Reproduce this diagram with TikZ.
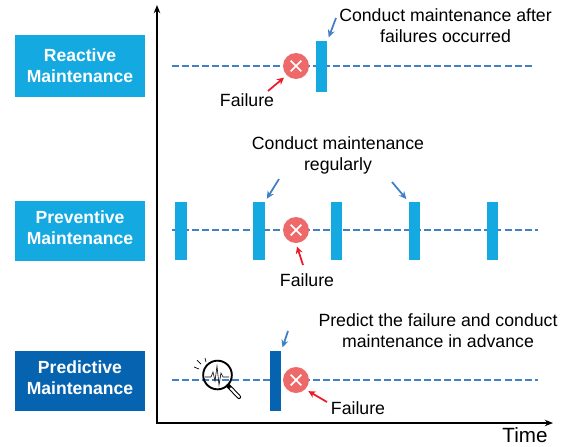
\documentclass[tikz,border=0pt]{standalone}
\usepackage{fontspec}
\setmainfont{Liberation Sans}
\usepackage{tikz}
\usetikzlibrary{arrows.meta}
\definecolor{lightblue}{HTML}{14A9E0}
\definecolor{darkblue}{HTML}{0563B0}
\definecolor{dashblue}{HTML}{4280C6}
\definecolor{failred}{HTML}{EE6A6A}
\definecolor{arrowred}{HTML}{F01828}
\begin{document}
\begin{tikzpicture}[
      x=0.03cm, y=-0.03cm,
      kind/.style={fill=lightblue, text=white, font=\fontsize{15}{18}\selectfont\bfseries, align=center, minimum width=3.9cm, minimum height=1.8cm, inner sep=0pt},
      bar/.style={fill=lightblue, minimum width=0.34cm, minimum height=1.74cm, inner sep=0pt},
      fail/.style={circle, fill=failred, minimum size=0.78cm, inner sep=0pt, path picture={
        \draw[white, line width=1.5pt] ([xshift=-0.16cm,yshift=-0.16cm]path picture bounding box.center) -- ([xshift=0.16cm,yshift=0.16cm]path picture bounding box.center);
        \draw[white, line width=1.5pt] ([xshift=-0.16cm,yshift=0.16cm]path picture bounding box.center) -- ([xshift=0.16cm,yshift=-0.16cm]path picture bounding box.center);}},
      txt/.style={font=\fontsize{15.1}{18}\selectfont, align=center, inner sep=0pt},
      timeline/.style={dashblue, line width=1.5pt, dash pattern=on 6pt off 2.6pt},
      axis/.style={-{Stealth[length=7pt,width=5.5pt]}, line width=1.5pt},
      bluearr/.style={-{Stealth[length=6.5pt,width=6pt]}, dashblue, line width=1.5pt},
      redarr/.style={-{Stealth[length=6pt,width=6pt]}, arrowred, line width=1.5pt}
    ]
      \useasboundingbox (0,0) rectangle (565,446);

      % Axes
      \coordinate (origin) at (157,423);
      \coordinate (ytip) at (157,5);
      \coordinate (xtip) at (553,423);
      \draw[axis] (origin) -- (ytip);
      \draw[axis] ([xshift=-0.7pt]origin) -- (xtip);
      \node[txt, font=\fontsize{17.6}{20}\selectfont] (time) at (525,435.5) {Time};

      % Left labels
      \node[kind, minimum height=1.86cm] (reactive) at (80,66) {Reactive\\Maintenance\\[-17.5pt]};
      \node[kind] (preventive) at (80,231) {Preventive\\Maintenance\\[-13pt]};
      \node[kind, fill=darkblue] (predictive) at (80,381) {Predictive\\Maintenance\\[-13pt]};

      % Time lines
      \coordinate (start1) at (172,66);
      \coordinate (end1) at (532,66);
      \coordinate (start2) at (172,230);
      \coordinate (end2) at (538,230);
      \coordinate (start3) at (172,380);
      \coordinate (end3) at (538,380);
      \draw[timeline] (start1) -- (end1);
      \draw[timeline] (start2) -- (end2);
      \draw[timeline] (start3) -- (end3);

      % Top row
      \node[bar, minimum height=1.53cm] (bar1) at (321.5,66.5) {};
      \node[fail] (x1) at (296,66) {};
      \node[txt] (note1) at (445.5,25.5) {Conduct maintenance after\\failures occurred};
      \node[txt] (label1) at (247,100) {Failure};
      \coordinate (tail1) at (336,18);
      \coordinate (rtail1) at (268,91);
      \draw[bluearr, shorten >=3pt] (tail1) -- (bar1.north east);
      \draw[redarr, shorten >=3pt] (rtail1) -- (x1.south west);

      % Middle row
      \node[bar] (bar2) at (181,231) {};
      \node[bar] (bar3) at (259,231) {};
      \node[bar] (bar4) at (336.5,231) {};
      \node[bar] (bar5) at (414.5,231) {};
      \node[bar] (bar6) at (492.5,231) {};
      \node[fail] (x2) at (296,230) {};
      \node[txt] (note2) at (338,155) {Conduct maintenance\\regularly};
      \node[txt] (label2) at (307,280) {Failure};
      \coordinate (tail2) at (279,179);
      \coordinate (tail3) at (392,182);
      \coordinate (rtail2) at (303,265);
      \draw[bluearr, shorten >=3pt] (tail2) -- (bar3.north east);
      \draw[bluearr, shorten >=3pt] (tail3) -- (bar5.north west);
      \draw[redarr, shorten >=3pt] (rtail2) -- (x2.south);

      % Bottom row
      \node[bar, fill=darkblue, minimum height=1.8cm] (bar7) at (275.5,381) {};
      \node[fail] (x3) at (296,380) {};
      \node[txt] (note3) at (438,331) {Predict the failure and conduct\\maintenance in advance};
      \node[txt] (label3) at (358,408) {Failure};
      \coordinate (tail4) at (288,331);
      \coordinate (rtail3) at (327,402);
      \draw[bluearr, shorten >=3pt] (tail4) -- (bar7.north east);
      \draw[redarr, shorten >=3pt] (rtail3) -- (x3.south east);

      % Magnifier
      \node[circle, draw, line width=1.6pt, minimum size=0.86cm, inner sep=0pt] (lens) at (217.5,375) {};
      \coordinate (grip) at (239,397);
      \draw[line width=3.6pt, line cap=round] (lens.south east) -- (grip);
      \draw[white, line width=1.8pt, line cap=round, shorten <=3pt] (lens.south east) -- (grip);
      \draw[line width=0.5pt] (205,377) -- (211,377) -- (213,372) -- (215,381) -- (217,366) -- (219,385) -- (221,373) -- (223,377) -- (229,377);
      \draw[line width=0.6pt] (194,367) -- (199,369);
      \draw[line width=0.6pt] (197,360) -- (201,364);
      \draw[line width=0.6pt] (205,358) -- (206,362);
    \end{tikzpicture}
\end{document}
